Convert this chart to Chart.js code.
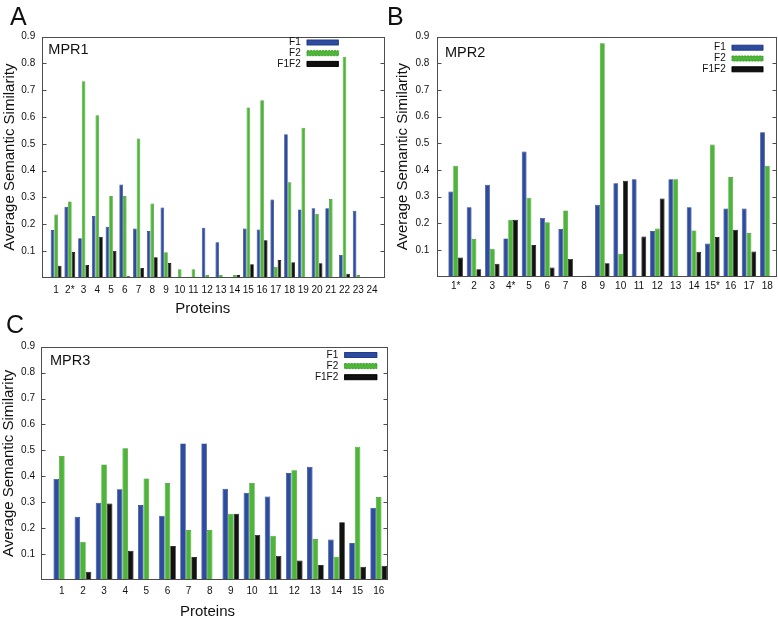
<!DOCTYPE html>
<html>
<head>
<meta charset="utf-8">
<script src="https://cdn.jsdelivr.net/npm/chart.js@4"></script>
<style>
  html, body { margin: 0; padding: 0; background: #fff; width: 778px; height: 618px; overflow: hidden; }
  .pane { position: absolute; }
  .tag { position: absolute; font: 25px/25px "Liberation Sans", Arial, sans-serif; color: #111; }
</style>
</head>
<body>
<canvas id="cA" class="pane" width="390" height="318" style="left:0;top:0"></canvas>
<canvas id="cB" class="pane" width="388" height="318" style="left:390px;top:0"></canvas>
<canvas id="cC" class="pane" width="390" height="303" style="left:0;top:318px"></canvas>
<div class="tag" style="left:10px;top:4px">A</div>
<div class="tag" style="left:387px;top:4px">B</div>
<div class="tag" style="left:6px;top:312px">C</div>
<script>
'use strict';
// trzy panele MPR1/MPR2/MPR3 — średnie podobieństwo semantyczne (F1, F2, F1F2)

const FONT = '"Liberation Sans", Arial, sans-serif';

// --- panel A: MPR1
const labelsA = ['1', '2*', '3', '4', '5', '6', '7', '8', '9', '10', '11', '12',
  '13', '14', '15', '16', '17', '18', '19', '20', '21', '22', '23', '24'];
const f1A   = [0.178, 0.265, 0.147, 0.230, 0.190, 0.348, 0.184, 0.174, 0.262, 0.002, 0.004, 0.187,
  0.132, 0.003, 0.184, 0.180, 0.292, 0.536, 0.255, 0.259, 0.259, 0.085, 0.250, 0];
const f2A   = [0.236, 0.285, 0.734, 0.607, 0.305, 0.305, 0.520, 0.277, 0.095, 0.032, 0.032, 0.010,
  0.010, 0.010, 0.636, 0.663, 0.041, 0.356, 0.560, 0.238, 0.294, 0.825, 0.010, 0];
const f1f2A = [0.045, 0.096, 0.047, 0.153, 0.100, 0.005, 0.036, 0.076, 0.055, 0.002, 0.004, 0,
  0.002, 0.010, 0.050, 0.140, 0.066, 0.058, 0, 0.054, 0.002, 0.015, 0, 0];

// --- panel B: MPR2
const labelsB = ['1*', '2', '3', '4*', '5', '6', '7', '8', '9', '10', '11', '12',
  '13', '14', '15*', '16', '17', '18'];
const f1B   = [0.319, 0.260, 0.344, 0.143, 0.469, 0.220, 0.178, 0, 0.269, 0.350, 0.365, 0.171,
  0.365, 0.260, 0.124, 0.255, 0.255, 0.541];
const f2B   = [0.416, 0.141, 0.104, 0.213, 0.296, 0.204, 0.248, 0, 0.875, 0.085, 0.003, 0.180,
  0.365, 0.173, 0.495, 0.373, 0.163, 0.416];
const f1f2B = [0.071, 0.027, 0.048, 0.213, 0.118, 0.034, 0.066, 0.003, 0.050, 0.359, 0.150, 0.293,
  0, 0.093, 0.148, 0.175, 0.094, 0];

// --- panel C: MPR3
const labelsC = ['1', '2', '3', '4', '5', '6', '7', '8', '9', '10', '11', '12',
  '13', '14', '15', '16'];
const f1C   = [0.390, 0.244, 0.298, 0.350, 0.289, 0.248, 0.527, 0.527, 0.352, 0.337, 0.322, 0.413,
  0.437, 0.156, 0.143, 0.279];
const f2C   = [0.478, 0.148, 0.446, 0.508, 0.392, 0.374, 0.193, 0.193, 0.256, 0.374, 0.171, 0.423,
  0.158, 0.090, 0.514, 0.320];
const f1f2C = [0.004, 0.032, 0.295, 0.113, 0, 0.131, 0.089, 0.003, 0.256, 0.174, 0.093, 0.075,
  0.058, 0.223, 0.051, 0.055];

const yTickStep = 0.1;
const yMax = 0.9;

const STYLE = {
  F1:   { fill: '#2d4b9f', edge: '#233d86', dash: [] },
  F2:   { fill: '#4db537', edge: '#3f9c2c', dash: [2, 1] },
  F1F2: { fill: '#111111', edge: '#000000', dash: [] },
};

function pts(vals) { return vals.map((v, i) => ({ x: i + 1, y: v })); }

// ramka jak w gnuplocie + krótkie kreski do środka po obu stronach
const frame = {
  id: 'frame',
  afterDatasetsDraw(chart) {
    const { ctx, chartArea: a, scales: { y } } = chart;
    const L = Math.round(a.left) + 0.5, R = Math.round(a.right) - 0.5;
    const T = Math.round(a.top) + 0.5, B = Math.round(a.bottom) - 0.5;
    ctx.save();
    ctx.strokeStyle = '#4d4d4d';
    ctx.lineWidth = 1;
    ctx.strokeRect(L, T, R - L, B - T);
    ctx.beginPath();
    y.ticks.forEach(t => {
      if (t.value <= 0 || t.value >= yMax - 1e-6) return;
      const py = Math.round(y.getPixelForValue(t.value)) + 0.5;
      ctx.moveTo(L, py); ctx.lineTo(L + 4, py);
      ctx.moveTo(R, py); ctx.lineTo(R - 4, py);
    });
    ctx.stroke();
    ctx.restore();
  },
};

// nazwa panelu (MPR1 ...) w lewym górnym rogu + podpis osi X (lekko w lewo, jak w oryginale)
const panelText = {
  id: 'panelText',
  afterDraw(chart, args, o) {
    const { ctx, chartArea: a } = chart;
    ctx.save();
    ctx.fillStyle = '#111';
    ctx.textBaseline = 'middle';
    ctx.textAlign = 'left';
    ctx.font = '14.5px ' + FONT;
    ctx.fillText(o.text, a.left + o.dx, a.top + o.dy);
    if (o.xTitle) {
      ctx.font = '15px ' + FONT;
      ctx.textAlign = 'center';
      ctx.fillText(o.xTitle, (a.left + a.right) / 2 + o.xtDx, a.bottom + o.xtDy);
    }
    ctx.restore();
  },
};

// legenda: tekst wyrównany do prawej, próbka koloru po prawej
const boxLegend = {
  id: 'boxLegend',
  afterDraw(chart, args, o) {
    const { ctx, chartArea: a } = chart;
    ctx.save();
    ctx.font = '10px ' + FONT;
    ctx.textBaseline = 'middle';
    ctx.textAlign = 'right';
    chart.data.datasets.forEach((ds, i) => {
      const st = STYLE[ds.label];
      const cy = a.top + o.y0 + i * o.dy;
      const sx = a.right + o.x;
      ctx.fillStyle = '#111';
      ctx.fillText(ds.label, sx - 6, cy);
      ctx.fillStyle = st.fill;
      ctx.fillRect(sx, cy - 2.5, o.w, 5);
      ctx.strokeStyle = st.edge;
      ctx.setLineDash(st.dash);
      ctx.lineWidth = 1;
      ctx.strokeRect(sx + 0.5, cy - 2.5, o.w - 1, 5);
      ctx.setLineDash([]);
    });
    ctx.restore();
  },
};

function makeChart(id, name, labels, f1, f2, f1f2, o) {
  const ds = (label, vals) => ({
    label, data: pts(vals),
    backgroundColor: STYLE[label].fill,
    borderColor: STYLE[label].edge,
    borderWidth: 0.7,
    borderSkipped: 'start',
  });
  return new Chart(document.getElementById(id), {
    type: 'bar',
    data: { datasets: [ds('F1', f1), ds('F2', f2), ds('F1F2', f1f2)] },
    plugins: [frame, panelText, boxLegend],
    options: {
      responsive: false,
      animation: false,
      events: [],
      layout: { padding: { top: o.top, right: o.right, left: 0, bottom: 0 } },
      datasets: { bar: { categoryPercentage: 0.79, barPercentage: 1 } },
      plugins: {
        legend: { display: false },
        tooltip: { enabled: false },
        panelText: { text: name, dx: o.nameDx, dy: o.nameDy,
          xTitle: o.xtitle ? 'Proteins' : '', xtDx: o.xtDx, xtDy: o.xtDy },
        boxLegend: o.legend,
      },
      scales: {
        x: {
          type: 'linear', min: o.xmin, max: o.xmax, offset: false,
          grid: { display: false, drawTicks: false, offset: false },
          border: { display: false },
          afterBuildTicks: s => { s.ticks = labels.map((_, i) => ({ value: i + 1 })); },
          afterFit: s => { s.height = o.xh; },
          ticks: {
            autoSkip: false, maxRotation: 0, padding: o.xpad, color: '#111',
            font: { family: FONT, size: 10 },
            callback: v => labels[v - 1] ?? '',
          },
        },
        y: {
          min: 0, max: yMax,
          grid: { display: false, drawTicks: false },
          border: { display: false },
          afterFit: s => { s.width = o.yw; },
          ticks: {
            stepSize: yTickStep, padding: o.ypad, color: '#111',
            font: { family: FONT, size: 10 },
            callback: v => v < 0.05 ? '' : v.toFixed(1),
          },
          title: {
            display: true, text: 'Average Semantic Similarity', color: '#111',
            font: { family: FONT, size: 15 }, padding: { top: o.ytp, bottom: 0 },
          },
        },
      },
    },
  });
}

Chart.defaults.font.family = FONT;

makeChart('cA', 'MPR1', labelsA, f1A, f2A, f1f2A, {
  top: 36.7, right: 5, yw: 41.7, xh: 40.3, xmin: -0.05, xmax: 24.95,
  xpad: 6.3, ypad: 6.5, ytp: 0.5, xtitle: true, xtDx: -10.5, xtDy: 31.3,
  nameDx: 6.6, nameDy: 13.3,
  legend: { x: -78.3, w: 32, y0: 5.8, dy: 10.7 },
});
makeChart('cB', 'MPR2', labelsB, f1B, f2B, f1f2B, {
  top: 36.7, right: 1.5, yw: 47.3, xh: 41.5, xmin: 0, xmax: 18.5,
  xpad: 4, ypad: 8, ytp: 3.5, xtitle: false,
  nameDx: 7.7, nameDy: 15.8,
  legend: { x: -44.8, w: 31.6, y0: 11, dy: 10.8 },
});
makeChart('cC', 'MPR3', labelsC, f1C, f2C, f1f2C, {
  top: 28.7, right: 1, yw: 40.7, xh: 41, xmin: 0, xmax: 16.45,
  xpad: 5.7, ypad: 5.7, ytp: 0, xtitle: true, xtDx: -7, xtDy: 31.7,
  nameDx: 9.3, nameDy: 14.3,
  legend: { x: -44, w: 33, y0: 8.3, dy: 11.1 },
});
</script>
</body>
</html>
